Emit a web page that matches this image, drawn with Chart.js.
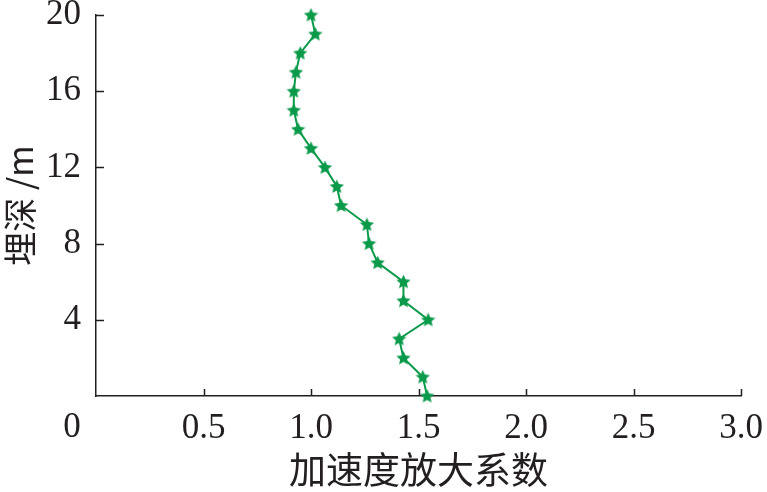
<!DOCTYPE html>
<html>
<head>
<meta charset="utf-8">
<script src="https://cdn.jsdelivr.net/npm/chart.js@4/dist/chart.umd.min.js"></script>
<style>
  html, body { margin: 0; padding: 0; background: #fff; }
  #wrap { width: 767px; height: 492px; }
</style>
</head>
<body>
<div id="wrap"><canvas id="myChart" width="767" height="492"></canvas></div>
<script>
// depth (m) and acceleration amplification factor
let depths = [0, 1, 2, 3, 4, 5, 6, 7, 8, 9, 10, 11, 12, 13, 14, 15, 16, 17, 18, 19, 20];
let factors = [1.54, 1.52, 1.43, 1.41, 1.545, 1.43, 1.43, 1.31, 1.27, 1.26, 1.14,
               1.12, 1.065, 1.0, 0.94, 0.92, 0.92, 0.93, 0.95, 1.02, 1.0];
let xTicks = [0, 0.5, 1.0, 1.5, 2.0, 2.5, 3.0];
let yTicks = [0, 4, 8, 12, 16, 20];

let green = '#0b9a4a';
let ink = '#231f20';
let numFont = {family: '"Liberation Serif", "DejaVu Serif", serif', size: 35};
let cjkFont = '"Noto Sans CJK SC", sans-serif';

// filled five point star for the markers
function makeStar(size) {
  let c = document.createElement('canvas');
  c.width = size; c.height = size;
  let g = c.getContext('2d');
  let cx = size / 2, cy = size / 2 + 0.5, R = size / 2, r = R * 0.48;
  g.beginPath();
  for (let i = 0; i < 10; i++) {
    let rad = i % 2 === 0 ? R : r;
    let a = -Math.PI / 2 + i * Math.PI / 5;
    g.lineTo(cx + rad * Math.cos(a), cy + rad * Math.sin(a));
  }
  g.closePath();
  g.fillStyle = green;
  g.fill();
  return c;
}
let star = makeStar(15);

let points = depths.map((d, i) => ({x: factors[i], y: d}));

// tick marks point into the plot, plus the shared "0" at the origin
let axisExtras = {
  id: 'axisExtras',
  afterDraw(chart) {
    let ctx = chart.ctx;
    let xs = chart.scales.x, ys = chart.scales.y;
    let area = chart.chartArea;
    ctx.save();
    ctx.strokeStyle = ink;
    ctx.lineWidth = 1.5;
    ctx.beginPath();
    xTicks.slice(1).forEach(v => {
      let px = Math.round(xs.getPixelForValue(v)) + 0.5;
      ctx.moveTo(px, area.bottom);
      ctx.lineTo(px, area.bottom - 7);
    });
    yTicks.slice(1).forEach(v => {
      let py = Math.round(ys.getPixelForValue(v)) + 0.5;
      ctx.moveTo(area.left, py);
      ctx.lineTo(area.left + 8, py);
    });
    ctx.stroke();
    ctx.fillStyle = ink;
    ctx.font = numFont.size + 'px ' + numFont.family;
    ctx.textAlign = 'center';
    ctx.textBaseline = 'middle';
    ctx.fillText('0', 72, 428);
    ctx.restore();
  }
};

let ctx = document.getElementById('myChart').getContext('2d');

let chart = new Chart(ctx, {
  type: 'scatter',
  data: {
    datasets: [{
      data: points,
      showLine: true,
      borderColor: green,
      backgroundColor: green,
      borderWidth: 2,
      pointStyle: star,
      pointRadius: 7,
      clip: false
    }]
  },
  options: {
    responsive: false,
    animation: false,
    layout: { padding: {top: 15, right: 26, bottom: 0, left: 0} },
    plugins: { legend: {display: false}, tooltip: {enabled: false} },
    scales: {
      x: {
        type: 'linear',
        min: 0, max: 3.0,
        afterFit: s => { s.height = 96; s.paddingLeft = 0; s.paddingRight = 0; },
        afterBuildTicks: s => { s.ticks = xTicks.map(v => ({value: v})); },
        border: { display: true, color: ink, width: 1.5 },
        grid: { display: false, drawTicks: false },
        ticks: {
          color: ink, font: numFont, padding: 12, maxRotation: 0,
          callback: v => v === 0 ? '' : v.toFixed(1)
        },
        title: {
          display: true, text: '加速度放大系数', color: ink,
          font: {family: cjkFont, size: 37}, padding: {top: 0, bottom: 0}
        }
      },
      y: {
        type: 'linear',
        min: 0, max: 20,
        afterFit: s => { s.width = 96; s.paddingTop = 0; s.paddingBottom = 0; },
        afterBuildTicks: s => { s.ticks = yTicks.map(v => ({value: v})); },
        border: { display: true, color: ink, width: 1.5 },
        grid: { display: false, drawTicks: false },
        ticks: {
          color: ink, font: numFont, padding: 15,
          callback: v => v === 0 ? '' : String(v)
        },
        title: {
          display: true, text: '埋深 /m', color: ink,
          font: {family: cjkFont, size: 34}, padding: {top: 0, bottom: 0}
        }
      }
    }
  },
  plugins: [axisExtras]
});
</script>
</body>
</html>
